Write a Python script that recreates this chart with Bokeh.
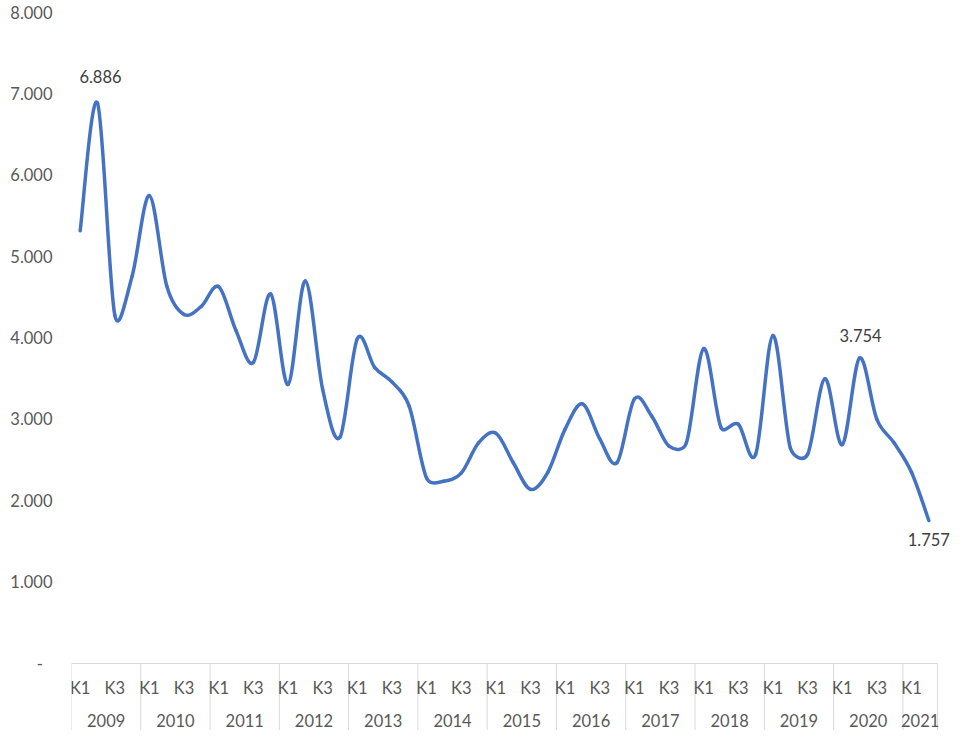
import numpy as np
from bokeh.plotting import figure
from bokeh.models import Range1d, FixedTicker, CustomJSTickFormatter
from bokeh.core.properties import value
from bokeh.embed import file_html
from bokeh.resources import INLINE

# ---------------- data ----------------
years = ["2009", "2010", "2011", "2012", "2013", "2014", "2015",
         "2016", "2017", "2018", "2019", "2020", "2021"]
quarters = ["K1", "K2", "K3", "K4"]
shown_quarters = ["K1", "K3"]
values = [
    5317, 6886, 4280, 4760,   # 2009
    5750, 4640, 4290, 4390,   # 2010
    4630, 4090, 3700, 4540,   # 2011
    3430, 4700, 3370, 2780,   # 2012
    3990, 3640, 3460, 3160,   # 2013
    2280, 2240, 2340, 2710,   # 2014
    2830, 2470, 2140, 2350,   # 2015
    2880, 3190, 2760, 2470,   # 2016
    3250, 3040, 2670, 2710,   # 2017
    3870, 2900, 2940, 2570,   # 2018
    4030, 2650, 2570, 3500,   # 2019
    2690, 3754, 3000, 2710,   # 2020
    2350, 1757,               # 2021
]
labeled_points = [1, 45, 49]          # indices with data labels
y_ticks = list(range(0, 8001, 1000))

# ---------------- layout constants (pixels) ----------------
W, H = 951, 730
FRAME_LEFT = 71
PX_X = 17.32                 # pixels per quarter
PX_Y = 651.0 / 8000.0        # pixels per unit of value
ZERO_Y = 663                 # canvas row of value 0
TOP_Y = 12                   # canvas row of value 8000

n = len(values)
x = np.arange(n) + 0.5
y = np.array(values, dtype=float)
quarter_of = [quarters[i % 4] for i in range(n)]
year_of = [years[i // 4] for i in range(n)]

bounds = [0]
for i in range(1, n):
    if year_of[i] != year_of[i - 1]:
        bounds.append(i)
bounds.append(n)
year_centers = [(bounds[k] + bounds[k + 1]) / 2 for k in range(len(bounds) - 1)]

UPX = 1.0 / PX_Y             # value units per pixel
x_end = (W - FRAME_LEFT) / PX_X
y_start = -(H - ZERO_Y) * UPX

p = figure(width=W, height=H, output_backend="svg", toolbar_location=None,
           x_range=Range1d(0, x_end), y_range=Range1d(y_start, 8000),
           x_axis_location=None,
           min_border_left=FRAME_LEFT, min_border_right=0,
           min_border_top=TOP_Y, min_border_bottom=0)
p.outline_line_color = None
p.xgrid.visible = False
p.ygrid.visible = False
p.background_fill_color = "white"
p.border_fill_color = "white"

FONT_NAME = "Lato"
FONT = value(FONT_NAME)
FS = "16.5px"

ax = p.yaxis[0]
ax.ticker = FixedTicker(ticks=y_ticks)
ax.formatter = CustomJSTickFormatter(code="""
    if (tick == 0) { return '-\u2007'; }
    const s = Math.round(tick).toString();
    return s.replace(/\\B(?=(\\d{3})+(?!\\d))/g, '.');
""")
ax.axis_line_color = None
ax.major_tick_line_color = None
ax.minor_tick_line_color = None
ax.major_tick_out = 0
ax.major_tick_in = 0
ax.minor_tick_out = 0
ax.major_label_standoff = 19
ax.major_label_text_font = FONT_NAME
ax.major_label_text_font_size = FS
ax.major_label_text_color = "#595959"

# category axis drawn with glyphs
p.segment(x0=[0], y0=[0], x1=[n], y1=[0], line_color="#d9d9d9", line_width=1)
sep_bottom = -68 * UPX
p.segment(x0=bounds, y0=[0] * len(bounds), x1=bounds, y1=[sep_bottom] * len(bounds),
          line_color="#d9d9d9", line_width=1)

kx = [x[i] for i in range(n) if quarter_of[i] in shown_quarters]
kt = [quarter_of[i] for i in range(n) if quarter_of[i] in shown_quarters]
p.text(x=kx, y=[-24 * UPX] * len(kx), text=kt, text_align="center",
       text_baseline="middle", text_font=FONT, text_font_size=FS,
       text_color="#595959")
p.text(x=year_centers, y=[-57 * UPX] * len(year_centers), text=years,
       text_align="center", text_baseline="middle", text_font=FONT,
       text_font_size=FS, text_color="#595959")

# smoothed line: cubic Bezier through the data points (Excel-style smoothing)
pts = np.column_stack([x * PX_X, y * PX_Y])      # pixel space for distances
def ctrl(i):
    P0 = pts[max(i - 1, 0)]
    P1 = pts[i]
    P2 = pts[i + 1]
    P3 = pts[min(i + 2, n - 1)]
    d12 = np.linalg.norm(P2 - P1)
    d02 = np.linalg.norm(P2 - P0)
    d13 = np.linalg.norm(P3 - P1)
    f = 1.0 / 6.0
    s1 = f if d02 * f < d12 / 2 or d02 == 0 else (d12 / 2) / d02
    s2 = f if d13 * f < d12 / 2 or d13 == 0 else (d12 / 2) / d13
    B1 = P1 + (P2 - P0) * s1
    B2 = P2 - (P3 - P1) * s2
    return B1[0] / PX_X, B1[1] / PX_Y, B2[0] / PX_X, B2[1] / PX_Y

cps = np.array([ctrl(i) for i in range(n - 1)])
p.bezier(x0=x[:-1], y0=y[:-1], x1=x[1:], y1=y[1:],
         cx0=cps[:, 0], cy0=cps[:, 1], cx1=cps[:, 2], cy1=cps[:, 3],
         line_color="#4472C4", line_width=3.5, line_cap="round")

def fmt(v):
    return f"{int(v):,}".replace(",", ".")

label_offsets = {1: (3, -27), 45: (1, -23), 49: (0, 19)}
for i in labeled_points:
    dx, dy = label_offsets[i]
    p.text(x=[x[i]], y=[y[i]], text=[fmt(values[i])], text_align="center",
           text_baseline="middle", text_font=FONT, text_font_size=FS,
           text_color="#404040", x_offset=dx, y_offset=dy)

open("out.html", "w").write(file_html(p, INLINE))
